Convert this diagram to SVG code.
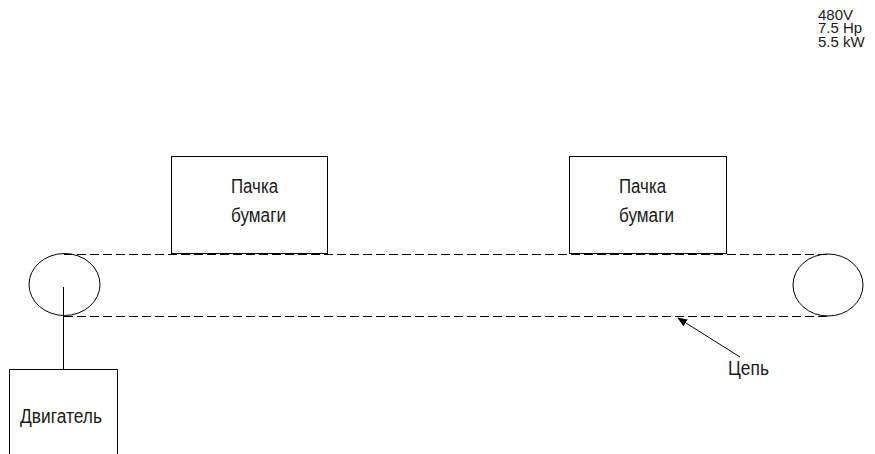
<svg xmlns="http://www.w3.org/2000/svg" width="875" height="454" viewBox="0 0 875 454">
<style>
.s{fill:none;stroke:#000;stroke-width:1}
.d{fill:none;stroke:#000;stroke-width:1;stroke-dasharray:9 4}
.t{font-family:"Liberation Sans",Arial,sans-serif;font-size:20px;fill:#1a1a1a}
.sm{font-family:"Liberation Sans",Arial,sans-serif;font-size:15px;fill:#1a1a1a}
</style>
<defs>
<marker id="ah" markerWidth="10" markerHeight="8" refX="9" refY="4" orient="auto" markerUnits="userSpaceOnUse">
<path d="M0,0 L10,4 L0,8 Z" fill="#000"/>
</marker>
</defs>
<rect width="875" height="454" fill="#fff"/>
<g id="specs">
<text class="sm" x="818" y="19.5">480V</text>
<text class="sm" x="818" y="33">7.5 Hp</text>
<text class="sm" x="818" y="46.5">5.5 kW</text>
</g>
<g id="connectors">
<line class="d" x1="64" y1="254.5" x2="828" y2="254.5"/>
<line class="d" x1="64" y1="316.5" x2="828" y2="316.5"/>
<line class="s" x1="63.5" y1="287" x2="63.5" y2="369"/>
<line class="s" x1="740" y1="357" x2="678" y2="318" marker-end="url(#ah)"/>
</g>
<g id="pulley-left">
<ellipse class="s" cx="64.5" cy="284.5" rx="35.5" ry="31"/>
</g>
<g id="pulley-right">
<ellipse class="s" cx="828" cy="285" rx="35" ry="31"/>
</g>
<g id="pack1">
<rect class="s" x="171.5" y="156.5" width="156" height="97"/>
<text class="t" x="231" y="192.5" textLength="47" lengthAdjust="spacingAndGlyphs">Пачка</text>
<text class="t" x="231" y="222" textLength="55" lengthAdjust="spacingAndGlyphs">бумаги</text>
</g>
<g id="pack2">
<rect class="s" x="569.5" y="156.5" width="157" height="97"/>
<text class="t" x="619" y="192.5" textLength="47" lengthAdjust="spacingAndGlyphs">Пачка</text>
<text class="t" x="619" y="222" textLength="55" lengthAdjust="spacingAndGlyphs">бумаги</text>
</g>
<g id="motor">
<path class="s" d="M9.5,460 V369.5 H117.5 V460"/>
<text class="t" x="20" y="423" textLength="82" lengthAdjust="spacingAndGlyphs">Двигатель</text>
</g>
<g id="chain-label">
<text class="t" x="728" y="375" textLength="41" lengthAdjust="spacingAndGlyphs">Цепь</text>
</g>
</svg>
